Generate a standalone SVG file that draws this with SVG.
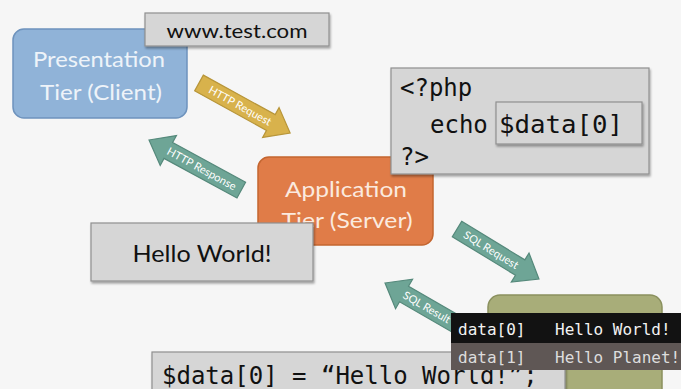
<svg xmlns="http://www.w3.org/2000/svg" width="681" height="389" viewBox="0 0 681 389">
  <style>
    .tier { font-family: Lato, "Open Sans", "DejaVu Sans", sans-serif; font-size: 22px; text-anchor: middle; }
    .label { font-family: Lato, "Open Sans", "DejaVu Sans", sans-serif; fill: #111; }
    .code { font-family: "DejaVu Sans Mono", "Liberation Mono", monospace; fill: #111; }
    .arrowtext { font-family: Lato, "Open Sans", "DejaVu Sans", sans-serif; font-size: 11px; fill: #ffffff; }
    .graybox { fill: #d6d6d6; stroke: #8f8f8f; stroke-width: 1.2; filter: url(#shadow); }
    .rowtext { font-family: "DejaVu Sans Mono", "Liberation Mono", monospace; font-size: 16px; }
  </style>
  <defs>
    <filter id="shadow" x="-10%" y="-10%" width="125%" height="140%">
      <feDropShadow dx="1" dy="2" stdDeviation="1.2" flood-color="#000" flood-opacity="0.35"/>
    </filter>
  </defs>

  <rect width="681" height="389" fill="#f6f6f6"/>

  <!-- connectors -->
  <g id="connectors" stroke-width="1.2">
    <g id="http-request" transform="translate(199,83) rotate(28.8)">
      <polygon points="0,-9 82,-9 82,-17 104,0 82,17 82,9 0,9" fill="#d8b24c" stroke="#b8963a"/>
      <text class="arrowtext" x="47" y="4" text-anchor="middle">HTTP Request</text>
    </g>
    <g id="http-response" transform="translate(149,140) rotate(28.5)">
      <polygon points="0,0 22,-17 22,-9 105,-9 105,9 22,9 22,17" fill="#6ea596" stroke="#55897b"/>
      <text class="arrowtext" x="60" y="4" text-anchor="middle">HTTP Response</text>
    </g>
    <g id="sql-request" transform="translate(457,229) rotate(31.4)">
      <polygon points="0,-9 74,-9 74,-17 96,0 74,17 74,9 0,9" fill="#6ea596" stroke="#55897b"/>
      <text class="arrowtext" x="40" y="4" text-anchor="middle">SQL Request</text>
    </g>
    <g id="sql-result" transform="translate(385,283) rotate(30)">
      <polygon points="0,0 22,-17 22,-9 100,-9 100,9 22,9 22,17" fill="#6ea596" stroke="#55897b"/>
      <text class="arrowtext" x="22" y="4">SQL Result</text>
    </g>
  </g>

  <!-- presentation tier -->
  <g id="client">
    <rect x="13" y="29" width="174" height="89" rx="11" fill="#90b3d8" stroke="#6e93bd" stroke-width="1.5"/>
    <text class="tier" x="99" y="67" fill="#eef3f9" textLength="132" lengthAdjust="spacingAndGlyphs">Presentation</text>
    <text class="tier" x="101" y="100" fill="#eef3f9" textLength="122" lengthAdjust="spacingAndGlyphs">Tier (Client)</text>
  </g>

  <!-- address bar -->
  <g id="url">
    <rect class="graybox" x="145" y="13" width="184" height="33"/>
    <text class="label" x="237" y="38" font-size="20" text-anchor="middle" textLength="141" lengthAdjust="spacingAndGlyphs">www.test.com</text>
  </g>

  <!-- application tier -->
  <g id="server">
    <rect x="258" y="157" width="175" height="88" rx="11" fill="#e07c48" stroke="#c4652f" stroke-width="1.5"/>
    <text class="tier" x="346" y="197" fill="#fbeadf" textLength="122" lengthAdjust="spacingAndGlyphs">Application</text>
    <text class="tier" x="347" y="228" fill="#fbeadf" textLength="131" lengthAdjust="spacingAndGlyphs">Tier (Server)</text>
  </g>

  <!-- php source -->
  <g id="php">
    <rect class="graybox" x="391" y="68" width="258" height="106"/>
    <rect class="graybox" x="496" y="102" width="146" height="42"/>
    <text class="code" x="400" y="96" font-size="24">&lt;?php</text>
    <text class="code" x="430" y="133" font-size="24">echo</text>
    <text class="code" x="499" y="133" font-size="24" textLength="124" lengthAdjust="spacingAndGlyphs">$data[0]</text>
    <text class="code" x="400" y="165" font-size="24">?&gt;</text>
  </g>

  <!-- browser output -->
  <g id="output">
    <rect class="graybox" x="91" y="223" width="222" height="58"/>
    <text class="label" x="202" y="262" font-size="23" text-anchor="middle" textLength="139" lengthAdjust="spacingAndGlyphs">Hello World!</text>
  </g>

  <!-- database tier -->
  <g id="database">
    <rect x="488" y="295" width="174" height="110" rx="12" fill="#a8ad79" stroke="#8a905e" stroke-width="1.5"/>
  </g>

  <!-- assignment -->
  <g id="assignment">
    <rect class="graybox" x="152" y="352" width="413" height="45"/>
    <text class="code" x="162" y="384" font-size="24">$data[0] = “Hello World!”;</text>
  </g>

  <!-- query result rows -->
  <g id="result-table">
    <rect x="451" y="313" width="230" height="30" fill="#121212"/>
    <rect x="451" y="343" width="230" height="27" fill="#5f5755"/>
    <text class="rowtext" x="458" y="335" fill="#f2f2f2">data[0]</text>
    <text class="rowtext" x="555" y="335" fill="#f2f2f2">Hello World!</text>
    <text class="rowtext" x="458" y="363" fill="#dddddd">data[1]</text>
    <text class="rowtext" x="555" y="363" fill="#dddddd">Hello Planet!</text>
  </g>
</svg>
